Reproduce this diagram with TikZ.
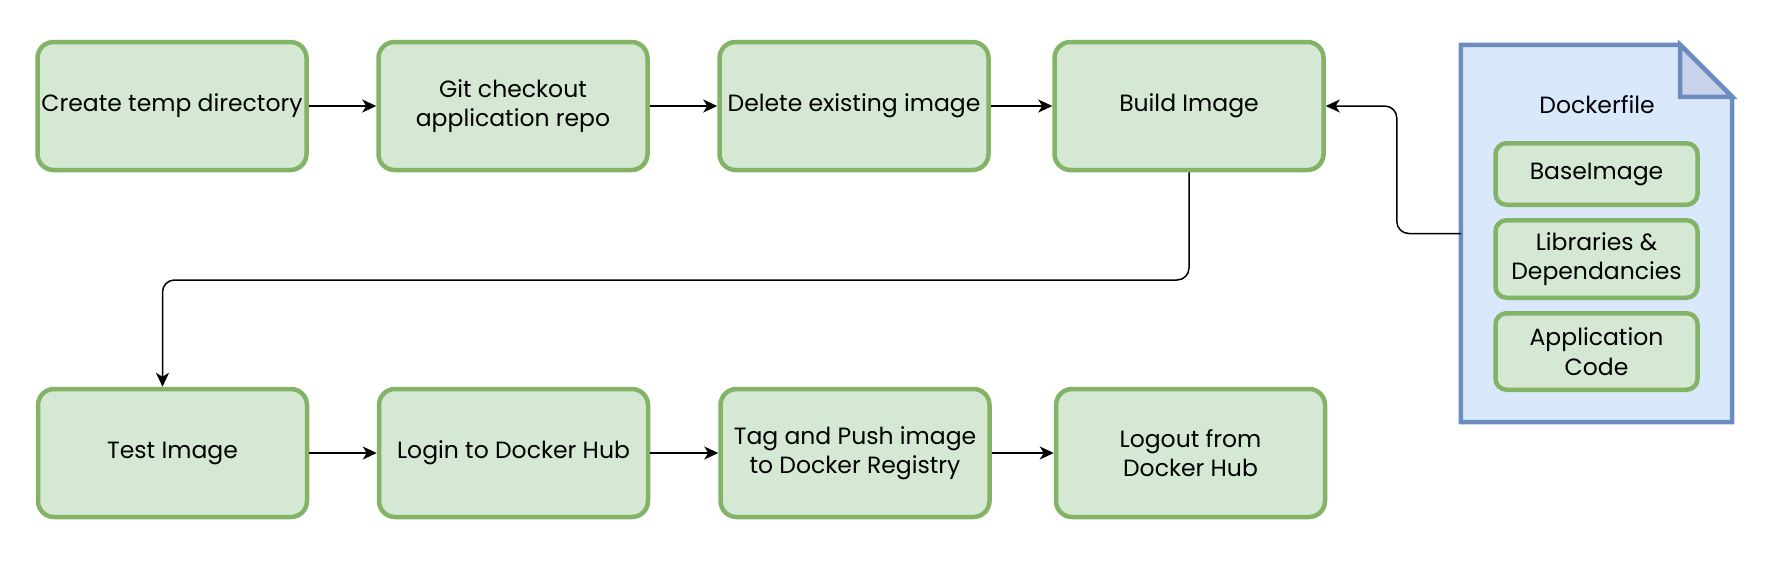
\documentclass[tikz,border=0pt]{standalone}
\usepackage{fontspec}
\setmainfont{Poppins}
\usetikzlibrary{calc, arrows.meta}
\definecolor{stepfill}{HTML}{D5E8D4}
\definecolor{stepline}{HTML}{82B366}
\definecolor{docfill}{HTML}{DAE8FC}
\definecolor{docline}{HTML}{6C8EBF}
\definecolor{foldfill}{HTML}{C9D3E9}
\tikzset{>={Stealth[length=14pt, width=13pt, inset=4pt]}}
\tikzset{stepbox/.style={draw=stepline, fill=stepfill, line width=4.5pt, rounded corners=16pt,
    minimum width=269pt, minimum height=128pt, align=center, font=\fontsize{23.5}{29.5}\selectfont},
  partbox/.style={draw=stepline, fill=stepfill, line width=4.5pt, rounded corners=11pt,
    minimum width=202pt, align=center, font=\fontsize{23.5}{29.5}\selectfont},
  flow/.style={->, line width=1.5pt, rounded corners=12pt}}
\begin{document}
\begin{tikzpicture}[x=1pt, y=-1pt]
\useasboundingbox (0,0) rectangle (1776,566);
\node[stepbox] (create) at (172,106) {Create temp directory};
\node[stepbox] (checkout) at (513,106) {Git checkout\\application repo};
\node[stepbox] (delete) at (854,106) {Delete existing image};
\node[stepbox] (build) at (1189,106) {Build Image};
\node[stepbox] (test) at (172.5,453) {Test Image};
\node[stepbox] (login) at (513.5,453) {Login to Docker Hub};
\node[stepbox] (push) at (855,453) {Tag and Push image\\to Docker Registry};
\node[stepbox] (logout) at (1190.5,453) {Logout from\\Docker Hub};
\node[minimum width=271pt, minimum height=377pt, inner sep=0pt] (docfile) at (1596.5,233.5) {};
\draw[draw=docline, fill=docfill, line width=4.5pt] (docfile.south west) -- (docfile.north west)
  -- ($(docfile.north east)+(-52,0)$) -- ($(docfile.north east)+(0,52)$) -- (docfile.south east) -- cycle;
\draw[draw=docline, fill=foldfill, line width=4.5pt, line join=miter] ($(docfile.north east)+(-52,0)$)
  -- ($(docfile.north east)+(-52,52)$) -- ($(docfile.north east)+(0,52)$) -- cycle;
\node[font=\fontsize{23.5}{29.5}\selectfont] (doctitle) at (1597,105) {Dockerfile};
\node[partbox, minimum height=61.5pt] (base) at (1596.5,174) {BaseImage};
\node[partbox, minimum height=77.5pt] (libs) at (1596.5,259) {Libraries \&\\Dependancies};
\node[partbox, minimum height=76.5pt] (code) at (1596.5,351.5) {Application\\Code};
\coordinate (turn) at (700,280);
\draw[flow] (create) -- (checkout);
\draw[flow] (checkout) -- (delete);
\draw[flow] (delete) -- (build);
\draw[flow] (build.south) |- (turn) -| ([xshift=-10pt]test.north);
\draw[flow] (test) -- (login);
\draw[flow] (login) -- (push);
\draw[flow] (push) -- (logout);
\draw[flow] (docfile.west) -- ++(-64,0) |- (build.east);
\end{tikzpicture}
\end{document}
